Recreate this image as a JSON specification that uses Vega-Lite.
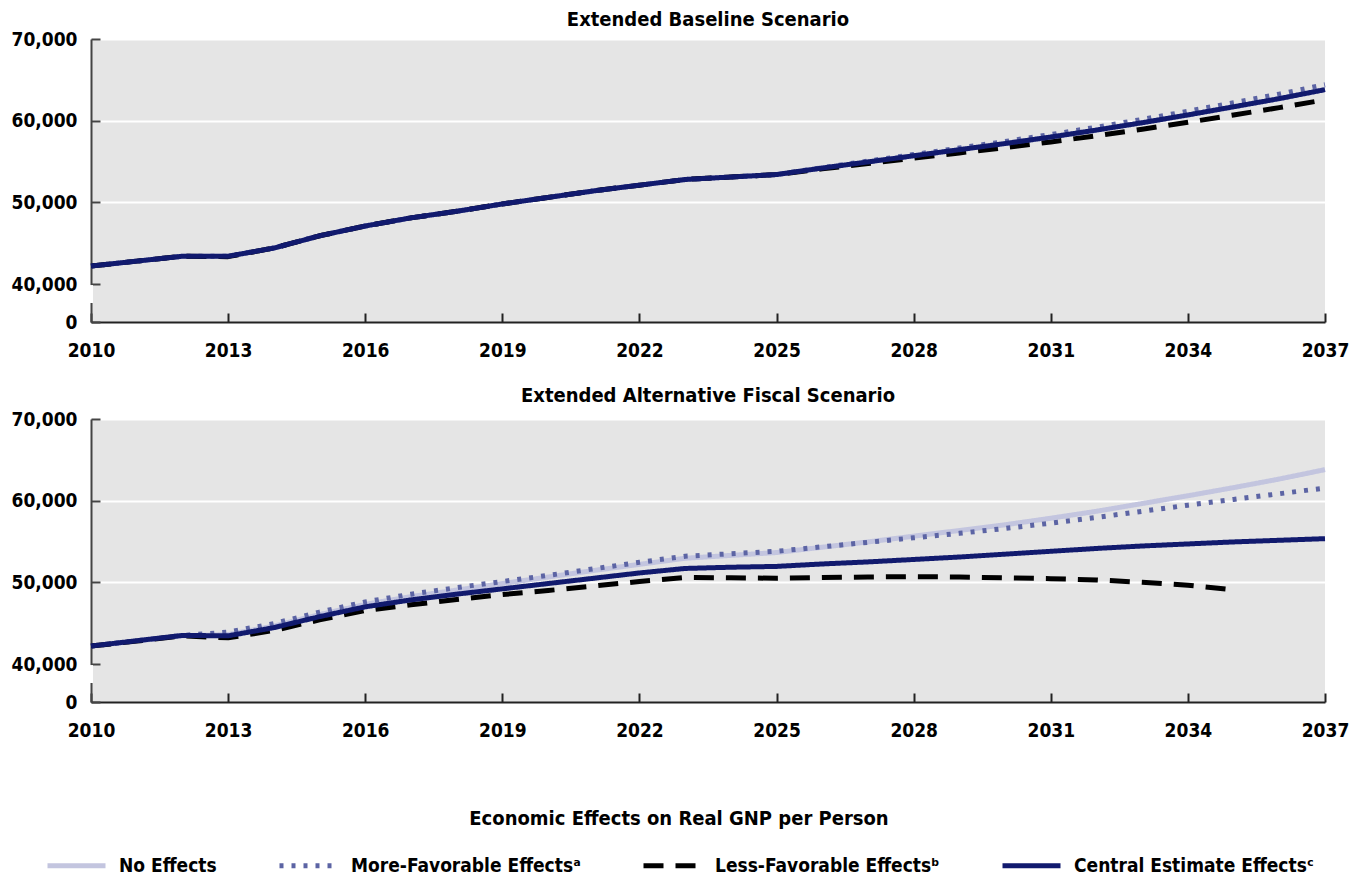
{
  "$schema": "https://vega.github.io/schema/vega-lite/v6.json",
  "padding": {"left": 11, "top": 10, "right": 10, "bottom": 5},
  "background": "white",
  "config": {
    "font": "DejaVu Sans Condensed",
    "view": {"fill": "#e5e5e5", "stroke": null},
    "title": {"fontSize": 20, "fontWeight": "bold", "color": "#000000", "offset": 4, "anchor": "middle"},
    "axis": {"labelFontSize": 19, "labelFontWeight": "bold", "labelColor": "#000000", "tickSize": -9, "tickWidth": 2, "domainWidth": 2, "title": null, "labelOverlap": false},
    "concat": {"spacing": 26}
  },
  "data": {"values": [
    {"panel":"B","series":"N","year":2010,"value":42200},{"panel":"B","series":"N","year":2011,"value":42800},{"panel":"B","series":"N","year":2012,"value":43400},{"panel":"B","series":"N","year":2013,"value":43400},{"panel":"B","series":"N","year":2014,"value":44400},{"panel":"B","series":"N","year":2015,"value":45900},{"panel":"B","series":"N","year":2016,"value":47100},{"panel":"B","series":"N","year":2017,"value":48100},{"panel":"B","series":"N","year":2018,"value":48900},{"panel":"B","series":"N","year":2019,"value":49800},{"panel":"B","series":"N","year":2020,"value":50600},{"panel":"B","series":"N","year":2021,"value":51400},{"panel":"B","series":"N","year":2022,"value":52100},{"panel":"B","series":"N","year":2023,"value":52800},{"panel":"B","series":"N","year":2024,"value":53100},{"panel":"B","series":"N","year":2025,"value":53400},{"panel":"B","series":"N","year":2026,"value":54200},{"panel":"B","series":"N","year":2027,"value":54950},{"panel":"B","series":"N","year":2028,"value":55700},{"panel":"B","series":"N","year":2029,"value":56450},{"panel":"B","series":"N","year":2030,"value":57200},{"panel":"B","series":"N","year":2031,"value":58000},{"panel":"B","series":"N","year":2032,"value":58850},{"panel":"B","series":"N","year":2033,"value":59750},{"panel":"B","series":"N","year":2034,"value":60700},{"panel":"B","series":"N","year":2035,"value":61700},{"panel":"B","series":"N","year":2036,"value":62700},{"panel":"B","series":"N","year":2037,"value":63800},
    {"panel":"B","series":"M","year":2010,"value":42200},{"panel":"B","series":"M","year":2011,"value":42800},{"panel":"B","series":"M","year":2012,"value":43400},{"panel":"B","series":"M","year":2013,"value":43400},{"panel":"B","series":"M","year":2014,"value":44400},{"panel":"B","series":"M","year":2015,"value":45900},{"panel":"B","series":"M","year":2016,"value":47100},{"panel":"B","series":"M","year":2017,"value":48100},{"panel":"B","series":"M","year":2018,"value":48900},{"panel":"B","series":"M","year":2019,"value":49800},{"panel":"B","series":"M","year":2020,"value":50600},{"panel":"B","series":"M","year":2021,"value":51400},{"panel":"B","series":"M","year":2022,"value":52100},{"panel":"B","series":"M","year":2023,"value":52800},{"panel":"B","series":"M","year":2024,"value":53100},{"panel":"B","series":"M","year":2025,"value":53400},{"panel":"B","series":"M","year":2026,"value":54250},{"panel":"B","series":"M","year":2027,"value":55050},{"panel":"B","series":"M","year":2028,"value":55850},{"panel":"B","series":"M","year":2029,"value":56650},{"panel":"B","series":"M","year":2030,"value":57450},{"panel":"B","series":"M","year":2031,"value":58300},{"panel":"B","series":"M","year":2032,"value":59200},{"panel":"B","series":"M","year":2033,"value":60150},{"panel":"B","series":"M","year":2034,"value":61150},{"panel":"B","series":"M","year":2035,"value":62200},{"panel":"B","series":"M","year":2036,"value":63250},{"panel":"B","series":"M","year":2037,"value":64400},
    {"panel":"B","series":"L","year":2010,"value":42200},{"panel":"B","series":"L","year":2011,"value":42800},{"panel":"B","series":"L","year":2012,"value":43400},{"panel":"B","series":"L","year":2013,"value":43350},{"panel":"B","series":"L","year":2014,"value":44400},{"panel":"B","series":"L","year":2015,"value":45900},{"panel":"B","series":"L","year":2016,"value":47100},{"panel":"B","series":"L","year":2017,"value":48100},{"panel":"B","series":"L","year":2018,"value":48900},{"panel":"B","series":"L","year":2019,"value":49800},{"panel":"B","series":"L","year":2020,"value":50600},{"panel":"B","series":"L","year":2021,"value":51400},{"panel":"B","series":"L","year":2022,"value":52100},{"panel":"B","series":"L","year":2023,"value":52800},{"panel":"B","series":"L","year":2024,"value":53100},{"panel":"B","series":"L","year":2025,"value":53400},{"panel":"B","series":"L","year":2026,"value":54100},{"panel":"B","series":"L","year":2027,"value":54750},{"panel":"B","series":"L","year":2028,"value":55400},{"panel":"B","series":"L","year":2029,"value":56050},{"panel":"B","series":"L","year":2030,"value":56700},{"panel":"B","series":"L","year":2031,"value":57400},{"panel":"B","series":"L","year":2032,"value":58150},{"panel":"B","series":"L","year":2033,"value":58950},{"panel":"B","series":"L","year":2034,"value":59800},{"panel":"B","series":"L","year":2035,"value":60700},{"panel":"B","series":"L","year":2036,"value":61600},{"panel":"B","series":"L","year":2037,"value":62550},
    {"panel":"B","series":"C","year":2010,"value":42200},{"panel":"B","series":"C","year":2011,"value":42800},{"panel":"B","series":"C","year":2012,"value":43400},{"panel":"B","series":"C","year":2013,"value":43400},{"panel":"B","series":"C","year":2014,"value":44400},{"panel":"B","series":"C","year":2015,"value":45900},{"panel":"B","series":"C","year":2016,"value":47100},{"panel":"B","series":"C","year":2017,"value":48100},{"panel":"B","series":"C","year":2018,"value":48900},{"panel":"B","series":"C","year":2019,"value":49800},{"panel":"B","series":"C","year":2020,"value":50600},{"panel":"B","series":"C","year":2021,"value":51400},{"panel":"B","series":"C","year":2022,"value":52100},{"panel":"B","series":"C","year":2023,"value":52800},{"panel":"B","series":"C","year":2024,"value":53100},{"panel":"B","series":"C","year":2025,"value":53400},{"panel":"B","series":"C","year":2026,"value":54200},{"panel":"B","series":"C","year":2027,"value":54950},{"panel":"B","series":"C","year":2028,"value":55700},{"panel":"B","series":"C","year":2029,"value":56450},{"panel":"B","series":"C","year":2030,"value":57200},{"panel":"B","series":"C","year":2031,"value":58000},{"panel":"B","series":"C","year":2032,"value":58850},{"panel":"B","series":"C","year":2033,"value":59750},{"panel":"B","series":"C","year":2034,"value":60700},{"panel":"B","series":"C","year":2035,"value":61700},{"panel":"B","series":"C","year":2036,"value":62700},{"panel":"B","series":"C","year":2037,"value":63800},
    {"panel":"A","series":"N","year":2010,"value":42200},{"panel":"A","series":"N","year":2011,"value":42800},{"panel":"A","series":"N","year":2012,"value":43450},{"panel":"A","series":"N","year":2013,"value":43600},{"panel":"A","series":"N","year":2014,"value":44650},{"panel":"A","series":"N","year":2015,"value":46050},{"panel":"A","series":"N","year":2016,"value":47300},{"panel":"A","series":"N","year":2017,"value":48250},{"panel":"A","series":"N","year":2018,"value":49050},{"panel":"A","series":"N","year":2019,"value":49850},{"panel":"A","series":"N","year":2020,"value":50650},{"panel":"A","series":"N","year":2021,"value":51450},{"panel":"A","series":"N","year":2022,"value":52200},{"panel":"A","series":"N","year":2023,"value":52950},{"panel":"A","series":"N","year":2024,"value":53300},{"panel":"A","series":"N","year":2025,"value":53650},{"panel":"A","series":"N","year":2026,"value":54300},{"panel":"A","series":"N","year":2027,"value":54950},{"panel":"A","series":"N","year":2028,"value":55650},{"panel":"A","series":"N","year":2029,"value":56350},{"panel":"A","series":"N","year":2030,"value":57050},{"panel":"A","series":"N","year":2031,"value":57850},{"panel":"A","series":"N","year":2032,"value":58700},{"panel":"A","series":"N","year":2033,"value":59650},{"panel":"A","series":"N","year":2034,"value":60600},{"panel":"A","series":"N","year":2035,"value":61600},{"panel":"A","series":"N","year":2036,"value":62650},{"panel":"A","series":"N","year":2037,"value":63800},
    {"panel":"A","series":"M","year":2010,"value":42200},{"panel":"A","series":"M","year":2011,"value":42850},{"panel":"A","series":"M","year":2012,"value":43500},{"panel":"A","series":"M","year":2013,"value":43900},{"panel":"A","series":"M","year":2014,"value":44950},{"panel":"A","series":"M","year":2015,"value":46350},{"panel":"A","series":"M","year":2016,"value":47600},{"panel":"A","series":"M","year":2017,"value":48550},{"panel":"A","series":"M","year":2018,"value":49350},{"panel":"A","series":"M","year":2019,"value":50100},{"panel":"A","series":"M","year":2020,"value":50850},{"panel":"A","series":"M","year":2021,"value":51650},{"panel":"A","series":"M","year":2022,"value":52450},{"panel":"A","series":"M","year":2023,"value":53200},{"panel":"A","series":"M","year":2024,"value":53500},{"panel":"A","series":"M","year":2025,"value":53800},{"panel":"A","series":"M","year":2026,"value":54350},{"panel":"A","series":"M","year":2027,"value":54900},{"panel":"A","series":"M","year":2028,"value":55450},{"panel":"A","series":"M","year":2029,"value":56000},{"panel":"A","series":"M","year":2030,"value":56600},{"panel":"A","series":"M","year":2031,"value":57250},{"panel":"A","series":"M","year":2032,"value":57950},{"panel":"A","series":"M","year":2033,"value":58700},{"panel":"A","series":"M","year":2034,"value":59450},{"panel":"A","series":"M","year":2035,"value":60150},{"panel":"A","series":"M","year":2036,"value":60850},{"panel":"A","series":"M","year":2037,"value":61550},
    {"panel":"A","series":"L","year":2010,"value":42200},{"panel":"A","series":"L","year":2011,"value":42800},{"panel":"A","series":"L","year":2012,"value":43450},{"panel":"A","series":"L","year":2013,"value":43200},{"panel":"A","series":"L","year":2014,"value":44100},{"panel":"A","series":"L","year":2015,"value":45400},{"panel":"A","series":"L","year":2016,"value":46550},{"panel":"A","series":"L","year":2017,"value":47250},{"panel":"A","series":"L","year":2018,"value":47900},{"panel":"A","series":"L","year":2019,"value":48500},{"panel":"A","series":"L","year":2020,"value":49000},{"panel":"A","series":"L","year":2021,"value":49550},{"panel":"A","series":"L","year":2022,"value":50100},{"panel":"A","series":"L","year":2023,"value":50600},{"panel":"A","series":"L","year":2024,"value":50550},{"panel":"A","series":"L","year":2025,"value":50500},{"panel":"A","series":"L","year":2026,"value":50600},{"panel":"A","series":"L","year":2027,"value":50650},{"panel":"A","series":"L","year":2028,"value":50700},{"panel":"A","series":"L","year":2029,"value":50650},{"panel":"A","series":"L","year":2030,"value":50550},{"panel":"A","series":"L","year":2031,"value":50450},{"panel":"A","series":"L","year":2032,"value":50300},{"panel":"A","series":"L","year":2033,"value":50000},{"panel":"A","series":"L","year":2034,"value":49650},{"panel":"A","series":"L","year":2035,"value":49100},
    {"panel":"A","series":"C","year":2010,"value":42200},{"panel":"A","series":"C","year":2011,"value":42850},{"panel":"A","series":"C","year":2012,"value":43500},{"panel":"A","series":"C","year":2013,"value":43450},{"panel":"A","series":"C","year":2014,"value":44450},{"panel":"A","series":"C","year":2015,"value":45800},{"panel":"A","series":"C","year":2016,"value":47000},{"panel":"A","series":"C","year":2017,"value":47850},{"panel":"A","series":"C","year":2018,"value":48550},{"panel":"A","series":"C","year":2019,"value":49200},{"panel":"A","series":"C","year":2020,"value":49850},{"panel":"A","series":"C","year":2021,"value":50500},{"panel":"A","series":"C","year":2022,"value":51150},{"panel":"A","series":"C","year":2023,"value":51700},{"panel":"A","series":"C","year":2024,"value":51850},{"panel":"A","series":"C","year":2025,"value":51950},{"panel":"A","series":"C","year":2026,"value":52250},{"panel":"A","series":"C","year":2027,"value":52500},{"panel":"A","series":"C","year":2028,"value":52800},{"panel":"A","series":"C","year":2029,"value":53100},{"panel":"A","series":"C","year":2030,"value":53450},{"panel":"A","series":"C","year":2031,"value":53800},{"panel":"A","series":"C","year":2032,"value":54150},{"panel":"A","series":"C","year":2033,"value":54450},{"panel":"A","series":"C","year":2034,"value":54700},{"panel":"A","series":"C","year":2035,"value":54950},{"panel":"A","series":"C","year":2036,"value":55150},{"panel":"A","series":"C","year":2037,"value":55350}
  ]},
  "vconcat": [
    {
      "title": {"text": "Extended Baseline Scenario", "offset": 0},
      "width": 1234,
      "height": 283,
      "transform": [{"filter": "datum.panel === 'B'"}],
      "layer": [
        {
          "mark": {"type": "line", "strokeWidth": 5, "strokeCap": "butt", "strokeJoin": "round"},
          "encoding": {
            "x": {"field": "year", "type": "quantitative", "scale": {"domain": [2010, 2037], "nice": false, "zero": false},
                  "axis": {"values": [2010, 2013, 2016, 2019, 2022, 2025, 2028, 2031, 2034, 2037], "format": "d", "labelPadding": 28, "domainColor": "#222222", "tickColor": "#222222", "grid": false, "labelFlush": false}},
            "y": {"field": "value", "type": "quantitative", "scale": {"domain": [0, 40000, 70000], "range": [283, 245, 0], "nice": false, "zero": false},
                  "axis": {"values": [0, 40000, 50000, 60000, 70000], "labelExpr": "format(datum.value, ',.0f')", "labelPadding": 23, "domainColor": "#444444", "tickColor": "#444444", "grid": true, "gridWidth": 2,
                           "gridColor": {"condition": {"test": "datum.value <= 40000", "value": "transparent"}, "value": "#ffffff"}}},
            "color": {"field": "series", "type": "nominal",
                      "scale": {"domain": ["N", "M", "L", "C"], "range": ["#c3c5df", "#5c64a4", "#000000", "#111a6e"]},
                      "legend": {"orient": "none", "legendX": -46, "legendY": 770, "direction": "horizontal", "columns": 4, "columnPadding": 52,
                                 "title": "Economic Effects on Real GNP per Person", "titleFontSize": 20, "titleFontWeight": "bold", "titleColor": "#000000", "titleAnchor": "middle", "titlePadding": 5, "titleLimit": 1000,
                                 "labelFontSize": 19, "labelFontWeight": "bold", "labelColor": "#000000", "labelOffset": 11, "labelLimit": 400,
                                 "symbolType": "stroke", "symbolSize": 3364, "symbolStrokeWidth": 5,
                                 "labelExpr": "{'N': 'No Effects', 'M': 'More-Favorable Effectsᵃ', 'L': 'Less-Favorable Effectsᵇ', 'C': 'Central Estimate Effectsᶜ'}[datum.label]"}},
            "strokeDash": {"field": "series", "type": "nominal",
                           "scale": {"domain": ["N", "M", "L", "C"], "range": [[1, 0], [4, 8], [20, 12], [1, 0]]}}
          }
        },
        {
          "data": {"values": [{"year": 2010, "lo": 20000, "hi": 38900}]},
          "mark": {"type": "rule", "color": "#ffffff", "strokeWidth": 4},
          "encoding": {"x": {"field": "year", "type": "quantitative"}, "y": {"field": "lo", "type": "quantitative"}, "y2": {"field": "hi"}}
        }
      ]
    },
    {
      "title": "Extended Alternative Fiscal Scenario",
      "width": 1234,
      "height": 283,
      "transform": [{"filter": "datum.panel === 'A'"}],
      "layer": [
        {
          "mark": {"type": "line", "strokeWidth": 5, "strokeCap": "butt", "strokeJoin": "round"},
          "encoding": {
            "x": {"field": "year", "type": "quantitative", "scale": {"domain": [2010, 2037], "nice": false, "zero": false},
                  "axis": {"values": [2010, 2013, 2016, 2019, 2022, 2025, 2028, 2031, 2034, 2037], "format": "d", "labelPadding": 28, "domainColor": "#222222", "tickColor": "#222222", "grid": false, "labelFlush": false}},
            "y": {"field": "value", "type": "quantitative", "scale": {"domain": [0, 40000, 70000], "range": [283, 245, 0], "nice": false, "zero": false},
                  "axis": {"values": [0, 40000, 50000, 60000, 70000], "labelExpr": "format(datum.value, ',.0f')", "labelPadding": 23, "domainColor": "#444444", "tickColor": "#444444", "grid": true, "gridWidth": 2,
                           "gridColor": {"condition": {"test": "datum.value <= 40000", "value": "transparent"}, "value": "#ffffff"}}},
            "color": {"field": "series", "type": "nominal",
                      "scale": {"domain": ["N", "M", "L", "C"], "range": ["#c3c5df", "#5c64a4", "#000000", "#111a6e"]}},
            "strokeDash": {"field": "series", "type": "nominal",
                           "scale": {"domain": ["N", "M", "L", "C"], "range": [[1, 0], [4, 8], [20, 12], [1, 0]]}}
          }
        },
        {
          "data": {"values": [{"year": 2010, "lo": 20000, "hi": 38900}]},
          "mark": {"type": "rule", "color": "#ffffff", "strokeWidth": 4},
          "encoding": {"x": {"field": "year", "type": "quantitative"}, "y": {"field": "lo", "type": "quantitative"}, "y2": {"field": "hi"}}
        }
      ]
    }
  ],
  "resolve": {"scale": {"color": "shared", "strokeDash": "shared"}, "legend": {"color": "shared", "strokeDash": "shared"}}
}
